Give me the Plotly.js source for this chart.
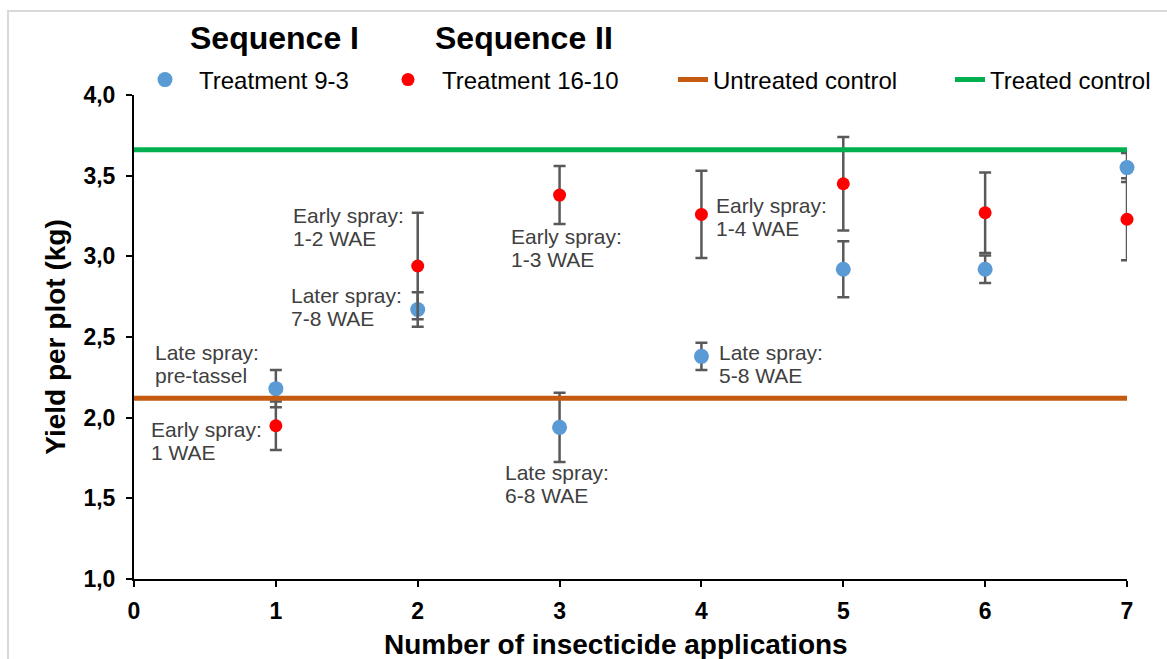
<!DOCTYPE html>
<html>
<head>
<meta charset="utf-8">
<script src="https://cdn.plot.ly/plotly-3.0.1.min.js"></script>
<style>html,body{margin:0;padding:0;background:#fff;}#chart{width:1167px;height:659px;}</style>
</head>
<body>
<div id="chart"></div>
<script>
// ---- data ----
var applications = [1, 2, 3, 4, 5, 6, 7];
var treatment93 = [2.18, 2.67, 1.94, 2.38, 2.92, 2.92, 3.55];
var treatment93Err = [0.115, 0.107, 0.215, 0.085, 0.174, 0.085, 0.09];
var treatment1610 = [1.95, 2.94, 3.38, 3.26, 3.45, 3.27, 3.23];
var treatment1610Err = [0.15, 0.33, 0.18, 0.27, 0.29, 0.25, 0.254];
var controlX = [0, 7];
var untreatedControl = [2.12, 2.12];
var treatedControl = [3.66, 3.66];
var xTicks = [0, 1, 2, 3, 4, 5, 6, 7];
var yTicks = [1.0, 1.5, 2.0, 2.5, 3.0, 3.5, 4.0];
var seriesNames = ["Treatment 9-3", "Treatment 16-10", "Untreated control", "Treated control"];
var sequenceTitles = ["Sequence I", "Sequence II"];
var labelLines = [
  ["Late spray:", "pre-tassel"],
  ["Early spray:", "1 WAE"],
  ["Early spray:", "1-2 WAE"],
  ["Later spray:", "7-8 WAE"],
  ["Early spray:", "1-3 WAE"],
  ["Late spray:", "6-8 WAE"],
  ["Early spray:", "1-4 WAE"],
  ["Late spray:", "5-8 WAE"]
];

// ---- layout helpers (positions only) ----
var labelPos = [
  [0.134, 2.405], [0.106, 1.924], [1.107, 3.256], [1.093, 2.760],
  [2.643, 3.120], [2.601, 1.663], [4.089, 3.318], [4.110, 2.405]
];
var lineStep = 0.1426;
var FONT = "Liberation Sans, Arial, sans-serif";
var L = 134, R = 40, T = 95, B = 80, W = 1167, H = 659;
var PW = W - L - R, PH = H - T - B;
function px2paperX(px) { return (px - L) / PW; }
function px2paperY(py) { return (H - B - py) / PH; }

var errStyle = function (arr) {
  return {type: 'data', array: arr, visible: true, color: '#595959', thickness: 2.5, width: 6};
};

var traces = [
  {x: applications, y: treatment93, name: seriesNames[0], type: 'scatter', mode: 'markers',
   marker: {color: '#5B9BD5', size: 15}, error_y: errStyle(treatment93Err), cliponaxis: false, legend: 'legend'},
  {x: applications, y: treatment1610, name: seriesNames[1], type: 'scatter', mode: 'markers',
   marker: {color: '#FF0000', size: 13}, error_y: errStyle(treatment1610Err), cliponaxis: false, legend: 'legend2'},
  {x: controlX, y: untreatedControl, name: seriesNames[2], type: 'scatter', mode: 'lines',
   line: {color: '#C55A11', width: 5}, cliponaxis: false, legend: 'legend3'},
  {x: controlX, y: treatedControl, name: seriesNames[3], type: 'scatter', mode: 'lines',
   line: {color: '#00B050', width: 5}, cliponaxis: false, legend: 'legend4'}
];

var annotations = [];
labelLines.forEach(function (lines, i) {
  lines.forEach(function (t, j) {
    annotations.push({text: t, x: labelPos[i][0], y: labelPos[i][1] - j * lineStep, xref: 'x', yref: 'y',
      xanchor: 'left', yanchor: 'middle', showarrow: false,
      font: {family: FONT, size: 21, color: '#404040'}});
  });
});
var seqX = [188, 433];
sequenceTitles.forEach(function (t, i) {
  annotations.push({text: '<b>' + t + '</b>', xref: 'paper', yref: 'paper', x: px2paperX(seqX[i]), y: px2paperY(38),
    xanchor: 'left', yanchor: 'middle', showarrow: false, font: {family: FONT, size: 32, color: '#000'}});
});
annotations.push({text: '<b>Number of insecticide applications</b>', xref: 'paper', yref: 'paper',
  x: px2paperX(616), y: px2paperY(645), xanchor: 'center', yanchor: 'middle', showarrow: false,
  font: {family: FONT, size: 28, color: '#000'}});

function legendAt(px, iw) {
  return {orientation: 'h', xref: 'container', yref: 'container', x: px / W, y: 1 - 80 / H,
    xanchor: 'left', yanchor: 'middle', bgcolor: 'rgba(0,0,0,0)', itemwidth: iw,
    font: {family: FONT, size: 24, color: '#000'}};
}

var layout = {
  width: W, height: H,
  margin: {l: L, r: R, t: T, b: B, autoexpand: false},
  paper_bgcolor: '#fff', plot_bgcolor: '#fff',
  separators: ',.',
  font: {family: FONT},
  showlegend: true,
  legend: legendAt(131, 58),
  legend2: legendAt(374, 58),
  legend3: legendAt(673, 30),
  legend4: legendAt(950, 30),
  xaxis: {
    range: [0, 7], tickvals: xTicks, ticktext: xTicks.map(String), automargin: false,
    showgrid: false, zeroline: false, showline: true, linecolor: '#000', linewidth: 2,
    ticks: 'outside', ticklen: 6, tickwidth: 2, tickcolor: '#000', ticklabelstandoff: 4,
    tickfont: {family: FONT, size: 23, color: '#000', weight: 'bold'}
  },
  yaxis: {
    range: [1, 4], tickvals: yTicks, tickformat: '.1f', automargin: false,
    showgrid: false, zeroline: false, showline: true, linecolor: '#000', linewidth: 2,
    ticks: 'outside', ticklen: 6, tickwidth: 2, tickcolor: '#000', ticklabelstandoff: 6,
    tickfont: {family: FONT, size: 23, color: '#000', weight: 'bold'},
    title: {text: '<b>Yield per plot (kg)</b>', standoff: 10,
      font: {family: FONT, size: 28, color: '#000'}}
  },
  annotations: annotations,
  shapes: [{type: 'rect', xref: 'paper', yref: 'paper',
    x0: px2paperX(8), x1: px2paperX(1185), y0: px2paperY(680), y1: px2paperY(11),
    line: {color: '#D9D9D9', width: 2}, fillcolor: 'rgba(0,0,0,0)', layer: 'below'}]
};

Plotly.newPlot('chart', traces, layout, {displayModeBar: false, staticPlot: true});
</script>
</body>
</html>
